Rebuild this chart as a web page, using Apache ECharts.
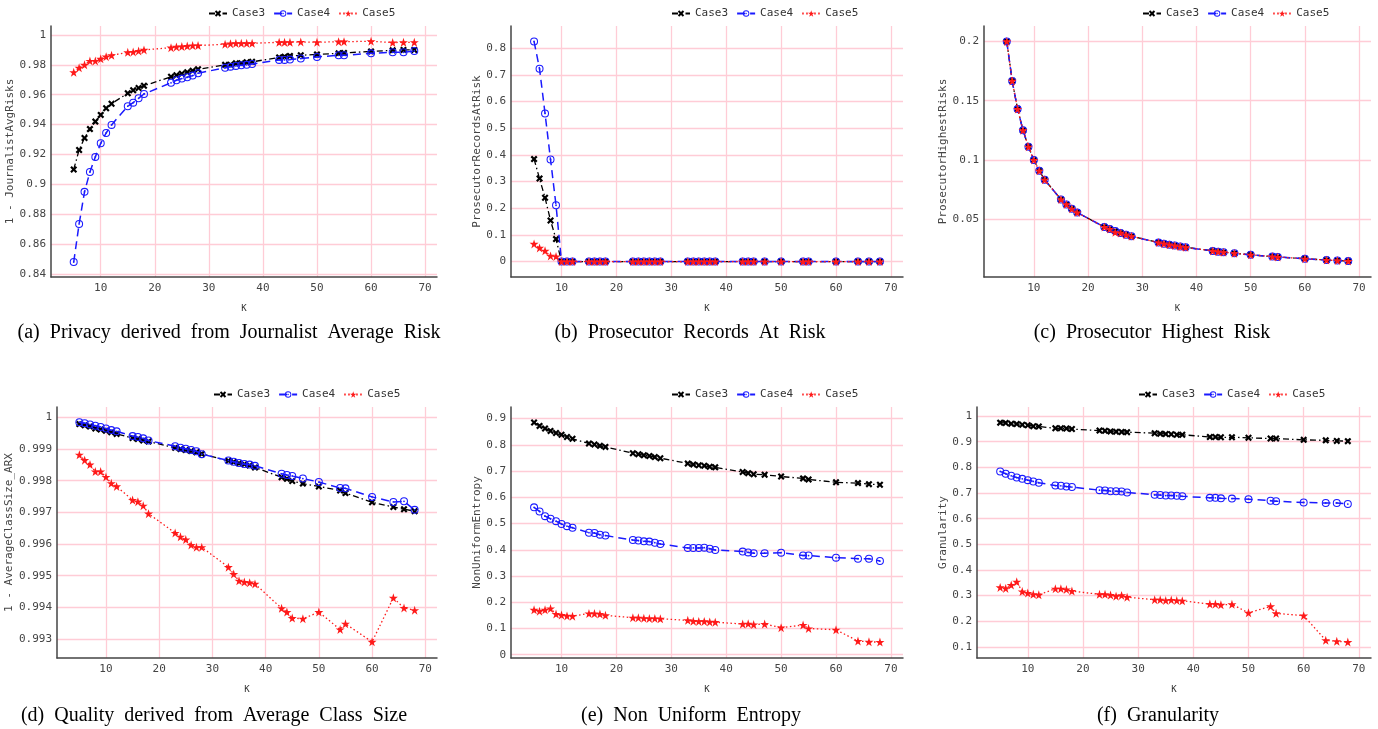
<!DOCTYPE html>
<html>
<head>
<meta charset="utf-8">
<script src="https://cdn.jsdelivr.net/npm/echarts@6/dist/echarts.min.js"></script>
<style>
  html, body { margin: 0; padding: 0; background: #fff; }
  #chart { width: 1378px; height: 729px; }
</style>
</head>
<body>
<div id="chart"></div>
<script>
// K values shared by all panels
const kValues = [5, 6, 7, 8, 9, 10, 11, 12, 15, 16, 17, 18, 23, 24, 25, 26, 27, 28,
  33, 34, 35, 36, 37, 38, 43, 44, 45, 47, 50, 54, 55, 60, 64, 66, 68];
const xTicks = [10, 20, 30, 40, 50, 60, 70];

// (a) 1 - JournalistAvgRisks
const journalCase3 = [0.910, 0.923, 0.931, 0.937, 0.942, 0.9465, 0.951, 0.954, 0.961, 0.963, 0.9645, 0.966,
  0.972, 0.973, 0.974, 0.975, 0.976, 0.977, 0.980, 0.980, 0.981, 0.981, 0.9817, 0.982,
  0.985, 0.9855, 0.986, 0.9864, 0.987, 0.9877, 0.988, 0.989, 0.9897, 0.990, 0.990];
const journalCase4 = [0.848, 0.8735, 0.895, 0.9083, 0.9184, 0.9275, 0.9344, 0.9398, 0.9523, 0.9547, 0.9576, 0.9605,
  0.968, 0.9697, 0.9708, 0.9717, 0.9728, 0.9744, 0.978, 0.9788, 0.9793, 0.9797, 0.980, 0.9806,
  0.9833, 0.9833, 0.9835, 0.9842, 0.9853, 0.9864, 0.9864, 0.9877, 0.9884, 0.9884, 0.9893];
const journalCase5 = [0.975, 0.978, 0.980, 0.9826, 0.9826, 0.984, 0.9855, 0.9864, 0.9884, 0.9886, 0.9893, 0.990,
  0.9915, 0.992, 0.9922, 0.9926, 0.9929, 0.9929, 0.9938, 0.9942, 0.9944, 0.9944, 0.9944, 0.9944,
  0.9951, 0.9951, 0.9951, 0.9953, 0.9951, 0.9955, 0.9955, 0.9958, 0.9949, 0.9951, 0.9951];
const yTicksA = [0.84, 0.86, 0.88, 0.9, 0.92, 0.94, 0.96, 0.98, 1];

// (b) ProsecutorRecordsAtRisk
const recordsCase3 = [0.384, 0.311, 0.239, 0.154, 0.084, 0, 0, 0, 0, 0, 0, 0, 0, 0, 0, 0, 0, 0,
  0, 0, 0, 0, 0, 0, 0, 0, 0, 0, 0, 0, 0, 0, 0, 0, 0];
const recordsCase4 = [0.825, 0.7225, 0.555, 0.3825, 0.211, 0, 0, 0, 0, 0, 0, 0, 0, 0, 0, 0, 0, 0,
  0, 0, 0, 0, 0, 0, 0, 0, 0, 0, 0, 0, 0, 0, 0, 0, 0];
const recordsCase5 = [0.066, 0.051, 0.040, 0.021, 0.019, 0, 0, 0, 0, 0, 0, 0, 0, 0, 0, 0, 0, 0,
  0, 0, 0, 0, 0, 0, 0, 0, 0, 0, 0, 0, 0, 0, 0, 0, 0];
const yTicksB = [0, 0.1, 0.2, 0.3, 0.4, 0.5, 0.6, 0.7, 0.8];

// (c) ProsecutorHighestRisks (the three cases overlap)
const highestCase3 = [0.2, 0.1667, 0.1429, 0.125, 0.1111, 0.1, 0.0909, 0.0833, 0.0667, 0.0625, 0.0588, 0.0556,
  0.0435, 0.0417, 0.04, 0.0385, 0.037, 0.0357, 0.0303, 0.0294, 0.0286, 0.0278, 0.027, 0.0263,
  0.0233, 0.0227, 0.0222, 0.0213, 0.02, 0.0185, 0.0182, 0.0167, 0.0156, 0.0152, 0.0147];
const highestCase4 = [0.2, 0.1667, 0.1429, 0.125, 0.1111, 0.1, 0.0909, 0.0833, 0.0667, 0.0625, 0.0588, 0.0556,
  0.0435, 0.0417, 0.04, 0.0385, 0.037, 0.0357, 0.0303, 0.0294, 0.0286, 0.0278, 0.027, 0.0263,
  0.0233, 0.0227, 0.0222, 0.0213, 0.02, 0.0185, 0.0182, 0.0167, 0.0156, 0.0152, 0.0147];
const highestCase5 = [0.2, 0.1667, 0.1429, 0.125, 0.1111, 0.1, 0.0909, 0.0833, 0.0667, 0.0625, 0.0588, 0.0556,
  0.0435, 0.0417, 0.039, 0.0385, 0.037, 0.0357, 0.0303, 0.0294, 0.0286, 0.0278, 0.027, 0.0263,
  0.0233, 0.0227, 0.0222, 0.0213, 0.02, 0.0185, 0.0182, 0.0167, 0.0156, 0.0152, 0.0147];
const yTicksC = [0.05, 0.1, 0.15, 0.2];

// (d) 1 - AverageClassSize_ARX
const classCase3 = [0.99979, 0.99975, 0.99971, 0.99965, 0.99962, 0.99958, 0.99953, 0.99948, 0.99935, 0.99932, 0.99927, 0.99924,
  0.99904, 0.999, 0.99897, 0.99894, 0.9989, 0.99885, 0.99863, 0.99859, 0.99855, 0.99852, 0.99848, 0.99842,
  0.99811, 0.99806, 0.99799, 0.99791, 0.99782, 0.99769, 0.99761, 0.99732, 0.99717, 0.9971, 0.99704];
const classCase4 = [0.99985, 0.99982, 0.99978, 0.99974, 0.9997, 0.99965, 0.9996, 0.99956, 0.99941, 0.99938, 0.99934, 0.99927,
  0.99909, 0.99904, 0.99901, 0.99897, 0.99893, 0.99884, 0.99864, 0.9986, 0.99856, 0.99853, 0.99851, 0.99847,
  0.99822, 0.99818, 0.99815, 0.99807, 0.99796, 0.99777, 0.99776, 0.99749, 0.99733, 0.99735, 0.99708];
const classCase5 = [0.99882, 0.99865, 0.99851, 0.99829, 0.99829, 0.99812, 0.99792, 0.99782, 0.99739, 0.99734, 0.99721, 0.99696,
  0.99635, 0.99623, 0.99614, 0.99597, 0.9959, 0.9959, 0.99527, 0.99505, 0.99484, 0.9948, 0.99478, 0.99474,
  0.99397, 0.99385, 0.99366, 0.99364, 0.99385, 0.9933, 0.99348, 0.99291, 0.9943, 0.99398, 0.99391];
const yTicksD = [0.993, 0.994, 0.995, 0.996, 0.997, 0.998, 0.999, 1];

// (e) NonUniformEntropy
const entropyCase3 = [0.885, 0.872, 0.862, 0.853, 0.845, 0.838, 0.830, 0.823, 0.805, 0.801, 0.796, 0.792,
  0.768, 0.764, 0.760, 0.757, 0.753, 0.749, 0.729, 0.725, 0.722, 0.720, 0.716, 0.714,
  0.696, 0.692, 0.688, 0.686, 0.679, 0.672, 0.668, 0.657, 0.654, 0.650, 0.648];
const entropyCase4 = [0.5615, 0.546, 0.528, 0.518, 0.509, 0.498, 0.490, 0.484, 0.465, 0.464, 0.4575, 0.454,
  0.437, 0.435, 0.432, 0.431, 0.427, 0.422, 0.407, 0.407, 0.407, 0.408, 0.404, 0.399,
  0.393, 0.390, 0.387, 0.387, 0.389, 0.378, 0.378, 0.370, 0.366, 0.366, 0.357];
const entropyCase5 = [0.171, 0.166, 0.171, 0.176, 0.155, 0.151, 0.148, 0.147, 0.157, 0.157, 0.155, 0.150,
  0.141, 0.141, 0.139, 0.138, 0.138, 0.137, 0.131, 0.128, 0.127, 0.127, 0.125, 0.124,
  0.117, 0.118, 0.115, 0.117, 0.103, 0.113, 0.100, 0.095, 0.052, 0.049, 0.048];
const yTicksE = [0, 0.1, 0.2, 0.3, 0.4, 0.5, 0.6, 0.7, 0.8, 0.9];

// (f) Granularity
const granCase3 = [0.974, 0.973, 0.970, 0.969, 0.966, 0.964, 0.960, 0.959, 0.952, 0.952, 0.951, 0.949,
  0.943, 0.942, 0.940, 0.939, 0.938, 0.937, 0.933, 0.931, 0.930, 0.929, 0.927, 0.927,
  0.918, 0.918, 0.917, 0.917, 0.915, 0.912, 0.912, 0.907, 0.905, 0.903, 0.902];
const granCase4 = [0.784, 0.775, 0.767, 0.760, 0.755, 0.750, 0.745, 0.740, 0.729, 0.728, 0.725, 0.723,
  0.711, 0.710, 0.707, 0.707, 0.706, 0.702, 0.693, 0.692, 0.690, 0.690, 0.689, 0.687,
  0.681, 0.681, 0.679, 0.678, 0.676, 0.670, 0.668, 0.663, 0.661, 0.661, 0.657];
const granCase5 = [0.332, 0.328, 0.341, 0.354, 0.316, 0.310, 0.305, 0.303, 0.327, 0.327, 0.324, 0.318,
  0.305, 0.305, 0.302, 0.298, 0.301, 0.294, 0.284, 0.284, 0.281, 0.283, 0.281, 0.280,
  0.267, 0.267, 0.264, 0.266, 0.233, 0.258, 0.231, 0.222, 0.126, 0.122, 0.119];
const yTicksF = [0.1, 0.2, 0.3, 0.4, 0.5, 0.6, 0.7, 0.8, 0.9, 1];

const captions = [
  "(a) Privacy derived from Journalist Average Risk",
  "(b) Prosecutor Records At Risk",
  "(c) Prosecutor Highest Risk",
  "(d) Quality derived from Average Class Size",
  "(e) Non Uniform Entropy",
  "(f) Granularity"
];

// marker shapes
const crossSymbol = "path://M0,2.2 L2.2,0 L5,2.8 L7.8,0 L10,2.2 L7.2,5 L10,7.8 L7.8,10 L5,7.2 L2.2,10 L0,7.8 L2.8,5 Z";
const ringSymbol = "path://M5,0 A5,5 0 1 1 5,10 A5,5 0 1 1 5,0 Z M5,1.3 A3.7,3.7 0 1 0 5,8.7 A3.7,3.7 0 1 0 5,1.3 Z M5,3.9 A1.1,1.1 0 1 1 5,6.1 A1.1,1.1 0 1 1 5,3.9 Z";
const starSymbol = "path://M5,0 L6.18,3.62 L10,3.62 L6.91,5.86 L8.09,9.51 L5,7.25 L1.91,9.51 L3.09,5.86 L0,3.62 L3.82,3.62 Z";

const monoFont = "DejaVu Sans Mono";
const pink = "#ffccd6";

const panels = [
  { grid: { left: 51, top: 26, width: 386, height: 251 }, yMin: 0.838, yMax: 1.006, yTicks: yTicksA, yName: "1 - JournalistAvgRisks", yGap: 32, legendLeft: 203, legendTop: 3, data: [journalCase3, journalCase4, journalCase5], cap: [229, 333] },
  { grid: { left: 511, top: 26, width: 392, height: 251 }, yMin: -0.058, yMax: 0.883, yTicks: yTicksB, yName: "ProsecutorRecordsAtRisk", yGap: 26, legendLeft: 666, legendTop: 3, data: [recordsCase3, recordsCase4, recordsCase5], cap: [690, 333] },
  { grid: { left: 984, top: 26, width: 387, height: 251 }, yMin: 0.0013, yMax: 0.213, yTicks: yTicksC, yName: "ProsecutorHighestRisks", yGap: 29, legendLeft: 1137, legendTop: 3, data: [highestCase3, highestCase4, highestCase5], cap: [1152, 333] },
  { grid: { left: 57, top: 407, width: 380, height: 251 }, yMin: 0.9924, yMax: 1.00033, yTicks: yTicksD, yName: "1 - AverageClassSize_ARX", yGap: 37, legendLeft: 208, legendTop: 384, data: [classCase3, classCase4, classCase5], cap: [214, 716] },
  { grid: { left: 511, top: 407, width: 392, height: 251 }, yMin: -0.0125, yMax: 0.944, yTicks: yTicksE, yName: "NonUniformEntropy", yGap: 26, legendLeft: 666, legendTop: 384, data: [entropyCase3, entropyCase4, entropyCase5], cap: [691, 716] },
  { grid: { left: 977, top: 407, width: 394, height: 251 }, yMin: 0.057, yMax: 1.035, yTicks: yTicksF, yName: "Granularity", yGap: 25, legendLeft: 1133, legendTop: 384, data: [granCase3, granCase4, granCase5], cap: [1158, 716] }
];

const caseStyles = [
  { name: "Case3", color: "#000000", symbol: crossSymbol, symbolSize: 7, lineType: [6, 3, 1.5, 3], width: 1.3 },
  { name: "Case4", color: "#1a1aff", symbol: ringSymbol, symbolSize: 8, lineType: [8, 5], width: 1.5 },
  { name: "Case5", color: "#ff1a1a", symbol: starSymbol, symbolSize: 9, lineType: [1.5, 2.5], width: 1.3 }
];

const fmt = v => String(Math.round(v * 1e6) / 1e6);

const option = {
  animation: false,
  backgroundColor: "#fff",
  grid: [],
  xAxis: [],
  yAxis: [],
  legend: [],
  series: [],
  graphic: []
};

panels.forEach((p, gi) => {
  option.grid.push(Object.assign({ containLabel: false }, p.grid));
  option.xAxis.push({
    type: "value",
    gridIndex: gi,
    min: 0.8,
    max: 72.2,
    name: "K",
    nameLocation: "middle",
    nameGap: 27,
    nameTextStyle: { fontFamily: monoFont, fontSize: 9, color: "#333" },
    axisLine: { onZero: false, lineStyle: { color: "#444", width: 1.5 } },
    axisTick: { show: false, customValues: xTicks },
    axisLabel: { customValues: xTicks, formatter: fmt, fontFamily: monoFont, fontSize: 11, color: "#444", margin: 6 },
    splitLine: { show: true, lineStyle: { color: pink, width: 1.3 } }
  });
  option.yAxis.push({
    type: "value",
    gridIndex: gi,
    min: p.yMin,
    max: p.yMax,
    name: p.yName,
    nameLocation: "middle",
    nameRotate: 90,
    nameGap: p.yGap,
    nameTextStyle: { fontFamily: monoFont, fontSize: 11, color: "#444" },
    axisLine: { show: true, onZero: false, lineStyle: { color: "#444", width: 1.5 } },
    axisTick: { show: false, customValues: p.yTicks },
    axisLabel: { customValues: p.yTicks, formatter: fmt, fontFamily: monoFont, fontSize: 11, color: "#444", margin: 5 },
    splitLine: { show: true, lineStyle: { color: pink, width: 1.3 } }
  });
  option.legend.push({
    left: p.legendLeft,
    top: p.legendTop,
    orient: "horizontal",
    itemWidth: 18,
    itemHeight: 8,
    itemGap: 8,
    textStyle: { fontFamily: monoFont, fontSize: 11, color: "#333" },
    data: caseStyles.map(c => c.name)
  });
  caseStyles.forEach((c, ci) => {
    option.series.push({
      type: "line",
      name: c.name,
      xAxisIndex: gi,
      yAxisIndex: gi,
      data: kValues.map((k, i) => [k, p.data[ci][i]]),
      symbol: c.symbol,
      symbolSize: c.symbolSize,
      showAllSymbol: true,
      clip: false,
      itemStyle: { color: c.color },
      lineStyle: { color: c.color, type: c.lineType, width: c.width },
      z: 2 + ci
    });
  });
  option.graphic.push({
    type: "text",
    x: p.cap[0],
    y: p.cap[1],
    style: {
      // caption words are spaced wide in the reference
      text: captions[gi].split(" ").join("  "),
      font: "20px 'Liberation Serif'",
      fill: "#000",
      align: "center",
      textAlign: "center",
      verticalAlign: "middle",
      textVerticalAlign: "middle"
    }
  });
});

const chart = echarts.init(document.getElementById("chart"));
chart.setOption(option);
</script>
</body>
</html>
